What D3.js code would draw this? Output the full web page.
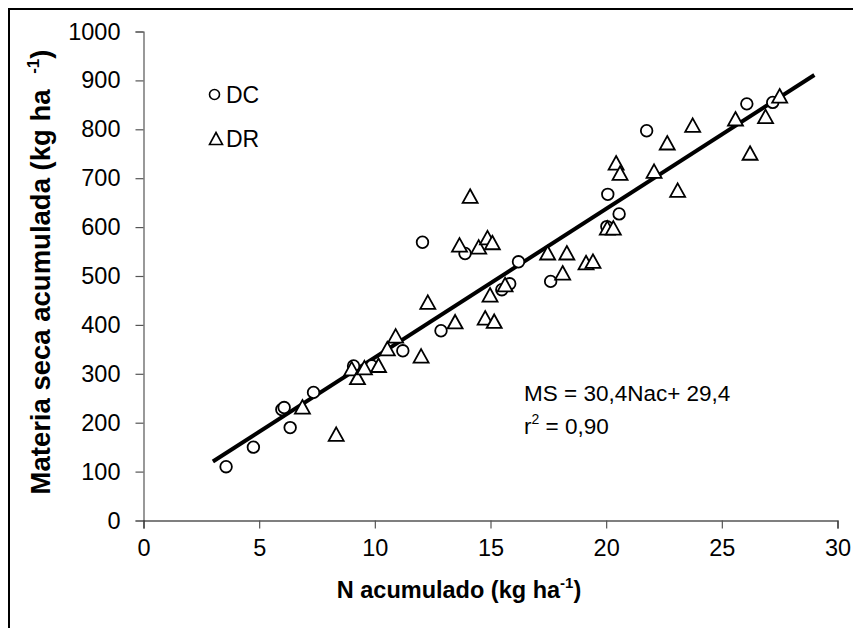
<!DOCTYPE html>
<html>
<head>
<meta charset="utf-8">
<script src="https://cdn.jsdelivr.net/npm/d3@7"></script>
<style>
  html, body { margin: 0; padding: 0; background: #fff; }
  svg { display: block; font-family: Arial, "Liberation Sans", sans-serif; }
</style>
</head>
<body>
<svg id="chart" width="853" height="628"></svg>
<script>
// Accumulated N (kg/ha) and accumulated dry matter (kg/ha), per treatment
const dcN  = [3.57, 4.75, 5.98, 6.08, 6.34, 7.35, 9.08, 9.87, 11.21, 12.06, 12.86, 13.9, 15.49, 15.83, 16.21, 17.6, 20.03, 20.07, 20.56, 21.75, 26.08, 27.2];
const dcMS = [110, 150, 227, 231, 190, 262, 316, 316, 347, 569, 388, 546, 472, 484, 529, 489, 601, 667, 627, 797, 852, 855];

const drN  = [6.87, 8.33, 9.0, 9.25, 9.55, 10.16, 10.54, 10.9, 12.0, 12.29, 13.47, 13.66, 14.12, 14.49, 14.87, 15.08, 14.77, 14.98, 15.16, 15.63, 17.47, 18.12, 18.3, 19.13, 19.43, 20.05, 20.31, 20.43, 20.6, 22.07, 22.64, 23.09, 23.74, 25.59, 26.22, 26.89, 27.5];
const drMS = [231, 175, 309, 291, 311, 316, 350, 376, 335, 445, 405, 562, 662, 558, 577, 567, 413, 460, 406, 481, 546, 505, 546, 526, 529, 597, 597, 730, 709, 713, 771, 674, 807, 820, 750, 825, 867];

// Fitted regression: MS = 30.4 * Nac + 29.4, drawn over the observed N range
const slope = 30.4;
const intercept = 29.4;
const fitRange = [3, 29];

const xTicks = [0, 5, 10, 15, 20, 25, 30];
const yTicks = [0, 100, 200, 300, 400, 500, 600, 700, 800, 900, 1000];

const svg = d3.select("#chart");

// frame around the chart
svg.append("rect")
  .attr("x", 9).attr("y", 9).attr("width", 900).attr("height", 700)
  .attr("fill", "none").attr("stroke", "#000").attr("stroke-width", 2);

const x = d3.scaleLinear().domain([0, 30]).range([143.5, 837.5]);
const y = d3.scaleLinear().domain([0, 1000]).range([520.5, 31.5]);

const tickFont = 23.5;

// y axis
const yAxis = svg.append("g")
  .attr("transform", `translate(${x(0)},0)`)
  .call(d3.axisLeft(y).tickValues(yTicks).tickSize(8).tickPadding(15).tickFormat(d3.format("d")));
yAxis.select(".domain").attr("stroke", "#555").attr("stroke-width", 1.2);
yAxis.selectAll(".tick line").attr("stroke", "#555").attr("stroke-width", 1.2);
yAxis.selectAll(".tick text").attr("font-size", tickFont).attr("fill", "#000")
  .attr("font-family", "Arial, 'Liberation Sans', sans-serif");

// x axis
const xAxis = svg.append("g")
  .attr("transform", `translate(0,${y(0)})`)
  .call(d3.axisBottom(x).tickValues(xTicks).tickSize(8).tickPadding(11).tickFormat(d3.format("d")));
xAxis.select(".domain").attr("stroke", "#000").attr("stroke-width", 1.2);
xAxis.selectAll(".tick line").attr("stroke", "#555").attr("stroke-width", 1.2);
xAxis.selectAll(".tick text").attr("font-size", tickFont).attr("fill", "#000")
  .attr("font-family", "Arial, 'Liberation Sans', sans-serif");

// axis titles
const xTitle = svg.append("text")
  .attr("x", 459).attr("y", 598)
  .attr("text-anchor", "middle")
  .attr("font-size", 23.5).attr("font-weight", "bold");
xTitle.append("tspan").text("N acumulado (kg ha");
xTitle.append("tspan").attr("font-size", 15).attr("dy", -10).text("-1");
xTitle.append("tspan").attr("dy", 10).text(")");

const yTitle = svg.append("text")
  .attr("transform", "translate(50,272) rotate(-90)")
  .attr("text-anchor", "middle")
  .attr("font-size", 27.5).attr("font-weight", "bold");
yTitle.append("tspan").text("Materia seca acumulada (kg ha ");
yTitle.append("tspan").attr("font-size", 17).attr("dx", 8).attr("dy", -11).text("-1");
yTitle.append("tspan").attr("dy", 11).text(")");

// regression line
svg.append("line")
  .attr("x1", x(fitRange[0])).attr("y1", y(slope * fitRange[0] + intercept))
  .attr("x2", x(fitRange[1])).attr("y2", y(slope * fitRange[1] + intercept))
  .attr("stroke", "#000").attr("stroke-width", 4);

// markers
const triPath = "M0,-7.5L7.5,6L-7.5,6Z";

svg.append("g").selectAll("circle")
  .data(dcN.map((n, i) => [n, dcMS[i]]))
  .join("circle")
  .attr("cx", d => x(d[0])).attr("cy", d => y(d[1]))
  .attr("r", 5.8)
  .attr("fill", "#fff").attr("stroke", "#000").attr("stroke-width", 1.8);

svg.append("g").selectAll("path")
  .data(drN.map((n, i) => [n, drMS[i]]))
  .join("path")
  .attr("d", triPath)
  .attr("transform", d => `translate(${x(d[0])},${y(d[1])})`)
  .attr("fill", "#fff").attr("stroke", "#000").attr("stroke-width", 1.8).attr("stroke-linejoin", "miter");

// legend
const legend = svg.append("g");
legend.append("circle").attr("cx", 214.5).attr("cy", 94.5).attr("r", 5)
  .attr("fill", "#fff").attr("stroke", "#000").attr("stroke-width", 1.6);
legend.append("text").attr("x", 226).attr("y", 103).attr("font-size", 23).text("DC");
legend.append("path").attr("d", "M0,-6.5L6.5,5.5L-6.5,5.5Z")
  .attr("transform", "translate(216,139)")
  .attr("fill", "#fff").attr("stroke", "#000").attr("stroke-width", 1.6);
legend.append("text").attr("x", 226).attr("y", 147).attr("font-size", 23).text("DR");

// equation and r²
svg.append("text").attr("x", 524).attr("y", 401).attr("font-size", 22.5)
  .text("MS = 30,4Nac+ 29,4");
const r2 = svg.append("text").attr("x", 524).attr("y", 434).attr("font-size", 22.5);
r2.append("tspan").text("r");
r2.append("tspan").attr("font-size", 14).attr("dy", -10).text("2");
r2.append("tspan").attr("dy", 10).text(" = 0,90");
</script>
</body>
</html>
